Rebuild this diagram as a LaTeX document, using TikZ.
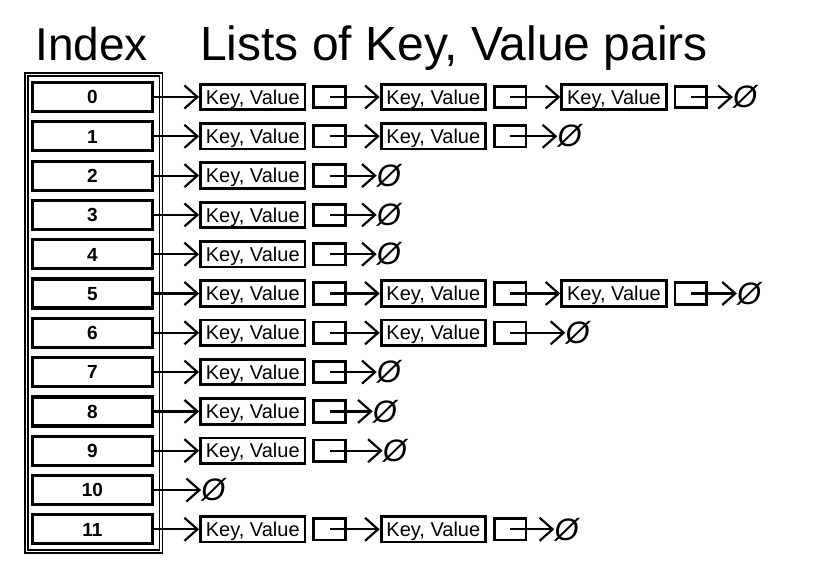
\documentclass[tikz,border=0pt]{standalone}
\usepackage{fontspec}
\setmainfont{Liberation Sans}
\usetikzlibrary{positioning,arrows.meta}
\begin{document}
\begin{tikzpicture}[x=1pt,y=-1pt,node distance=6pt,>={Straight Barb[length=13pt,width=23pt]}]
\tikzset{
  slot/.style={draw,line width=3.2pt,minimum width=120pt,minimum height=29pt,inner sep=0pt,text height=13.6pt,text depth=0pt,font=\fontsize{19}{19}\selectfont\bfseries},
  pair/.style={draw,line width=2.8pt,minimum width=104.5pt,minimum height=25.5pt,inner sep=0pt,text height=14.3pt,text depth=0pt,font=\fontsize{20}{20}\selectfont},
  link/.style={draw,line width=2.8pt,minimum width=31.5pt,minimum height=21.5pt,inner sep=0pt},
  nil/.style={inner sep=0pt,font=\fontsize{31}{31}\selectfont\itshape},
  heading/.style={inner sep=0pt,font=\fontsize{46}{46}\selectfont},
  ptr/.style={->,line width=2.2pt}
}
\useasboundingbox (0,0) rectangle (828,584);
\node[heading,anchor=base] (indexhead) at (91.5,60) {Index};
\node[heading,anchor=base west,font=\fontsize{48}{48}\selectfont] (listhead) at (200,60) {Lists of Key, Value pairs};
\draw[line width=1.4pt,double,double distance=1.6pt] (26.5,74.5) rectangle (161,551.5);
\node[slot] (i0) at (92.5,97) {0};
\node[slot] (i1) at (92.5,136.3) {1};
\node[slot] (i2) at (92.5,175.6) {2};
\node[slot] (i3) at (92.5,214.9) {3};
\node[slot] (i4) at (92.5,254.2) {4};
\node[slot] (i5) at (92.5,293.5) {5};
\node[slot] (i6) at (92.5,332.8) {6};
\node[slot] (i7) at (92.5,372.1) {7};
\node[slot] (i8) at (92.5,411.4) {8};
\node[slot] (i9) at (92.5,450.7) {9};
\node[slot] (i10) at (92.5,490) {10};
\node[slot] (i11) at (92.5,529.3) {11};

\node[pair,right=45pt of i0] (k0a) {Key, Value};
\node[link,right=of k0a] (l0a) {};
\node[pair,right=33pt of l0a] (k0b) {Key, Value};
\node[link,right=of k0b] (l0b) {};
\node[pair,right=33pt of l0b] (k0c) {Key, Value};
\node[link,right=of k0c] (l0c) {};
\node[nil,right=25pt of l0c] (n0) {Ø};
\draw[ptr] ([xshift=-3pt]i0.east) -- (k0a);
\draw[ptr] (l0a.center) -- (k0b);
\draw[ptr] (l0b.center) -- (k0c);
\draw[ptr] (l0c.center) -- (n0);

\node[pair,right=45pt of i1] (k1a) {Key, Value};
\node[link,right=of k1a] (l1a) {};
\node[pair,right=33pt of l1a] (k1b) {Key, Value};
\node[link,right=of k1b] (l1b) {};
\node[nil,right=30pt of l1b] (n1) {Ø};
\draw[ptr] ([xshift=-3pt]i1.east) -- (k1a);
\draw[ptr] (l1a.center) -- (k1b);
\draw[ptr] (l1b.center) -- (n1);

\node[pair,right=45pt of i2] (k2a) {Key, Value};
\node[link,right=of k2a] (l2a) {};
\node[nil,right=30pt of l2a] (n2) {Ø};
\draw[ptr] ([xshift=-3pt]i2.east) -- (k2a);
\draw[ptr] (l2a.center) -- (n2);

\node[pair,right=45pt of i3] (k3a) {Key, Value};
\node[link,right=of k3a] (l3a) {};
\node[nil,right=30pt of l3a] (n3) {Ø};
\draw[ptr] ([xshift=-3pt]i3.east) -- (k3a);
\draw[ptr] (l3a.center) -- (n3);

\node[pair,right=45pt of i4] (k4a) {Key, Value};
\node[link,right=of k4a] (l4a) {};
\node[nil,right=30pt of l4a] (n4) {Ø};
\draw[ptr] ([xshift=-3pt]i4.east) -- (k4a);
\draw[ptr] (l4a.center) -- (n4);

\node[pair,right=45pt of i5] (k5a) {Key, Value};
\node[link,right=of k5a] (l5a) {};
\node[pair,right=33pt of l5a] (k5b) {Key, Value};
\node[link,right=of k5b] (l5b) {};
\node[pair,right=33pt of l5b] (k5c) {Key, Value};
\node[link,right=of k5c] (l5c) {};
\node[nil,right=29pt of l5c] (n5) {Ø};
\draw[ptr] ([xshift=-3pt]i5.east) -- (k5a);
\draw[ptr] (l5a.center) -- (k5b);
\draw[ptr] (l5b.center) -- (k5c);
\draw[ptr] (l5c.center) -- (n5);

\node[pair,right=45pt of i6] (k6a) {Key, Value};
\node[link,right=of k6a] (l6a) {};
\node[pair,right=33pt of l6a] (k6b) {Key, Value};
\node[link,right=of k6b] (l6b) {};
\node[nil,right=38pt of l6b] (n6) {Ø};
\draw[ptr] ([xshift=-3pt]i6.east) -- (k6a);
\draw[ptr] (l6a.center) -- (k6b);
\draw[ptr] (l6b.center) -- (n6);

\node[pair,right=45pt of i7] (k7a) {Key, Value};
\node[link,right=of k7a] (l7a) {};
\node[nil,right=30pt of l7a] (n7) {Ø};
\draw[ptr] ([xshift=-3pt]i7.east) -- (k7a);
\draw[ptr] (l7a.center) -- (n7);

\node[pair,right=45pt of i8] (k8a) {Key, Value};
\node[link,right=of k8a] (l8a) {};
\node[nil,right=26pt of l8a] (n8) {Ø};
\draw[ptr] ([xshift=-3pt]i8.east) -- (k8a);
\draw[ptr] (l8a.center) -- (n8);

\node[pair,right=45pt of i9] (k9a) {Key, Value};
\node[link,right=of k9a] (l9a) {};
\node[nil,right=36pt of l9a] (n9) {Ø};
\draw[ptr] ([xshift=-3pt]i9.east) -- (k9a);
\draw[ptr] (l9a.center) -- (n9);

\node[nil,right=47pt of i10] (n10) {Ø};
\draw[ptr] ([xshift=-3pt]i10.east) -- (n10);

\node[pair,right=45pt of i11] (k11a) {Key, Value};
\node[link,right=of k11a] (l11a) {};
\node[pair,right=33pt of l11a] (k11b) {Key, Value};
\node[link,right=of k11b] (l11b) {};
\node[nil,right=27pt of l11b] (n11) {Ø};
\draw[ptr] ([xshift=-3pt]i11.east) -- (k11a);
\draw[ptr] (l11a.center) -- (k11b);
\draw[ptr] (l11b.center) -- (n11);
\end{tikzpicture}
\end{document}
